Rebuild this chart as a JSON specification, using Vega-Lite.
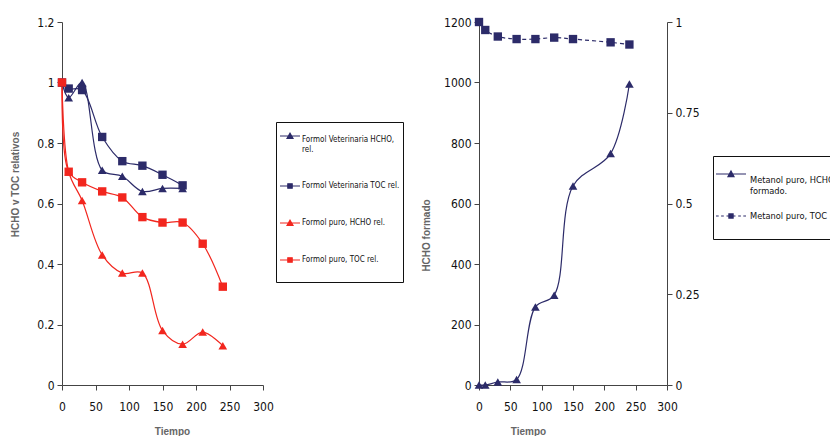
{
  "$schema": "https://vega.github.io/schema/vega-lite/v6.json",
  "padding": {"left": 10, "top": 16, "right": 0, "bottom": 0},
  "bounds": "flush",
  "spacing": 216,
  "config": {
    "view": {"stroke": null},
    "axis": {
      "grid": false,
      "domainColor": "#444",
      "tickColor": "#444",
      "tickSize": 5,
      "labelFont": "DejaVu Sans Condensed, sans-serif",
      "labelFontSize": 12,
      "labelColor": "#111",
      "labelOverlap": false,
      "labelFlush": false,
      "labelExpr": "toString(datum.value)",
      "titleFont": "Liberation Sans, Arial, sans-serif",
      "titleFontSize": 10,
      "titleFontWeight": "bold",
      "titleColor": "#666"
    },
    "legend": {
      "labelFont": "DejaVu Sans Condensed, sans-serif",
      "labelColor": "#111"
    }
  },
  "datasets": {
    "left": [
      {"s": "Formol Veterinaria HCHO, rel.", "t": 0, "v": 1.0},
      {"s": "Formol Veterinaria HCHO, rel.", "t": 10, "v": 0.95},
      {"s": "Formol Veterinaria HCHO, rel.", "t": 30, "v": 1.0},
      {"s": "Formol Veterinaria HCHO, rel.", "t": 60, "v": 0.71},
      {"s": "Formol Veterinaria HCHO, rel.", "t": 90, "v": 0.69},
      {"s": "Formol Veterinaria HCHO, rel.", "t": 120, "v": 0.64},
      {"s": "Formol Veterinaria HCHO, rel.", "t": 150, "v": 0.65},
      {"s": "Formol Veterinaria HCHO, rel.", "t": 180, "v": 0.65},
      {"s": "Formol Veterinaria TOC rel.", "t": 0, "v": 1.0},
      {"s": "Formol Veterinaria TOC rel.", "t": 10, "v": 0.98},
      {"s": "Formol Veterinaria TOC rel.", "t": 30, "v": 0.975},
      {"s": "Formol Veterinaria TOC rel.", "t": 60, "v": 0.82},
      {"s": "Formol Veterinaria TOC rel.", "t": 90, "v": 0.74},
      {"s": "Formol Veterinaria TOC rel.", "t": 120, "v": 0.725},
      {"s": "Formol Veterinaria TOC rel.", "t": 150, "v": 0.695},
      {"s": "Formol Veterinaria TOC rel.", "t": 180, "v": 0.66},
      {"s": "Formol puro, HCHO rel.", "t": 0, "v": 1.0},
      {"s": "Formol puro, HCHO rel.", "t": 10, "v": 0.705},
      {"s": "Formol puro, HCHO rel.", "t": 30, "v": 0.61},
      {"s": "Formol puro, HCHO rel.", "t": 60, "v": 0.43},
      {"s": "Formol puro, HCHO rel.", "t": 90, "v": 0.37},
      {"s": "Formol puro, HCHO rel.", "t": 120, "v": 0.37},
      {"s": "Formol puro, HCHO rel.", "t": 150, "v": 0.18},
      {"s": "Formol puro, HCHO rel.", "t": 180, "v": 0.135},
      {"s": "Formol puro, HCHO rel.", "t": 210, "v": 0.175},
      {"s": "Formol puro, HCHO rel.", "t": 240, "v": 0.13},
      {"s": "Formol puro, TOC rel.", "t": 0, "v": 1.0},
      {"s": "Formol puro, TOC rel.", "t": 10, "v": 0.705},
      {"s": "Formol puro, TOC rel.", "t": 30, "v": 0.67},
      {"s": "Formol puro, TOC rel.", "t": 60, "v": 0.64},
      {"s": "Formol puro, TOC rel.", "t": 90, "v": 0.62},
      {"s": "Formol puro, TOC rel.", "t": 120, "v": 0.555},
      {"s": "Formol puro, TOC rel.", "t": 150, "v": 0.537},
      {"s": "Formol puro, TOC rel.", "t": 180, "v": 0.537},
      {"s": "Formol puro, TOC rel.", "t": 210, "v": 0.467},
      {"s": "Formol puro, TOC rel.", "t": 240, "v": 0.325}
    ],
    "right": [
      {"s": "Metanol puro, HCHO formado.", "t": 0, "v": 0},
      {"s": "Metanol puro, HCHO formado.", "t": 10, "v": 0},
      {"s": "Metanol puro, HCHO formado.", "t": 30, "v": 10},
      {"s": "Metanol puro, HCHO formado.", "t": 60, "v": 18},
      {"s": "Metanol puro, HCHO formado.", "t": 90, "v": 258},
      {"s": "Metanol puro, HCHO formado.", "t": 120, "v": 297},
      {"s": "Metanol puro, HCHO formado.", "t": 150, "v": 658},
      {"s": "Metanol puro, HCHO formado.", "t": 210, "v": 765},
      {"s": "Metanol puro, HCHO formado.", "t": 240, "v": 995},
      {"s": "Metanol puro, TOC rel.", "t": 0, "v": 1.0},
      {"s": "Metanol puro, TOC rel.", "t": 10, "v": 0.978},
      {"s": "Metanol puro, TOC rel.", "t": 30, "v": 0.96},
      {"s": "Metanol puro, TOC rel.", "t": 60, "v": 0.953},
      {"s": "Metanol puro, TOC rel.", "t": 90, "v": 0.953},
      {"s": "Metanol puro, TOC rel.", "t": 120, "v": 0.957},
      {"s": "Metanol puro, TOC rel.", "t": 150, "v": 0.953},
      {"s": "Metanol puro, TOC rel.", "t": 210, "v": 0.944},
      {"s": "Metanol puro, TOC rel.", "t": 240, "v": 0.938}
    ]
  },
  "resolve": {
    "scale": {"color": "independent"},
    "legend": {"color": "independent"}
  },
  "hconcat": [
    {
      "width": 201,
      "height": 363,
      "data": {"name": "left"},
      "encoding": {
        "x": {
          "field": "t", "type": "quantitative",
          "scale": {"domain": [0, 300], "nice": false},
          "axis": {"values": [0, 50, 100, 150, 200, 250, 300], "title": "Tiempo", "labelPadding": 11, "titleX": 110, "titleY": 41, "titleBaseline": "top"}
        },
        "y": {
          "field": "v", "type": "quantitative",
          "scale": {"domain": [0, 1.2], "nice": false},
          "axis": {"values": [0, 0.2, 0.4, 0.6, 0.8, 1, 1.2], "title": "HCHO v TOC relativos", "labelPadding": 3, "titleX": -42, "titleY": 162}
        },
        "color": {
          "field": "s", "type": "nominal",
          "scale": {
            "domain": ["Formol Veterinaria HCHO, rel.", "Formol Veterinaria TOC rel.", "Formol puro, HCHO rel.", "Formol puro, TOC rel."],
            "range": ["#2c2b69", "#2c2b69", "#f2261e", "#f2261e"]
          },
          "legend": {
            "orient": "none",
            "legendX": 214,
            "legendY": 100,
            "title": " ",
            "titleOrient": "bottom",
            "titleFontSize": 10,
            "titlePadding": 4,
            "strokeColor": "#111",
            "fillColor": "white",
            "padding": 3,
            "symbolSize": 400,
            "labelFontSize": 8,
            "labelOffset": 1,
            "labelLimit": 200,
            "rowPadding": 21,
            "labelExpr": "datum.label == 'Formol Veterinaria HCHO, rel.' ? ['Formol Veterinaria HCHO,', 'rel.'] : datum.label",
            "encode": {
              "symbols": {
                "update": {
                  "shape": {"signal": "indexof(datum.value, 'HCHO') >= 0 ? 'M-1,0H1M-0.3,0.25L0,-0.28L0.3,0.25Z' : 'M-1,0H1M-0.22,-0.22H0.22V0.22H-0.22Z'"},
                  "fill": {"signal": "indexof(datum.value, 'puro') >= 0 ? '#f2261e' : '#2c2b69'"},
                  "stroke": {"signal": "indexof(datum.value, 'puro') >= 0 ? '#f2261e' : '#2c2b69'"},
                  "strokeWidth": {"value": 1.2},
                  "opacity": {"value": 1}
                }
              },
              "labels": {
                "update": {
                  "dy": {"signal": "datum.value == 'Formol Veterinaria HCHO, rel.' ? 4 : 0"}
                }
              }
            }
          }
        }
      },
      "layer": [
        {"mark": {"type": "line", "interpolate": "catmull-rom", "strokeWidth": 1.2}},
        {
          "transform": [{"filter": "indexof(datum.s, 'HCHO') >= 0"}],
          "mark": {"type": "point", "filled": true, "opacity": 1, "size": 75, "shape": "triangle-up"}
        },
        {
          "transform": [{"filter": "indexof(datum.s, 'TOC') >= 0"}],
          "mark": {"type": "point", "filled": true, "opacity": 1, "size": 70, "shape": "square"}
        }
      ]
    },
    {
      "width": 188,
      "height": 363,
      "data": {"name": "right"},
      "encoding": {
        "x": {
          "field": "t", "type": "quantitative",
          "scale": {"domain": [0, 300], "nice": false},
          "axis": {"values": [0, 50, 100, 150, 200, 250, 300], "title": "Tiempo", "labelPadding": 11, "titleX": 49, "titleY": 41, "titleBaseline": "top"}
        },
        "color": {
          "field": "s", "type": "nominal",
          "scale": {"domain": ["Metanol puro, HCHO formado.", "Metanol puro, TOC rel."], "range": ["#2c2b69", "#2c2b69"]},
          "legend": {
            "orient": "none",
            "legendX": 234,
            "legendY": 134,
            "title": " ",
            "titleOrient": "bottom",
            "titleFontSize": 10,
            "titlePadding": 6,
            "strokeColor": "#111",
            "fillColor": "white",
            "padding": 2,
            "symbolSize": 900,
            "labelFontSize": 9.2,
            "labelOffset": 3,
            "labelLimit": 200,
            "rowPadding": 3,
            "labelExpr": "datum.label == 'Metanol puro, HCHO formado.' ? ['Metanol puro, HCHO', 'formado.'] : datum.label",
            "encode": {
              "symbols": {
                "update": {
                  "shape": {"signal": "indexof(datum.value, 'HCHO') >= 0 ? 'M-1,0H1M-0.2,0.17L0,-0.2L0.2,0.17Z' : 'M-1,0H-0.82M-0.66,0H-0.48M0.48,0H0.66M0.82,0H1M-0.3,0H0.3M-0.14,-0.14H0.14V0.14H-0.14Z'"},
                  "fill": {"value": "#2c2b69"},
                  "stroke": {"value": "#2c2b69"},
                  "strokeWidth": {"value": 1.2},
                  "opacity": {"value": 1}
                }
              },
              "labels": {
                "update": {
                  "dy": {"signal": "datum.value == 'Metanol puro, HCHO formado.' ? 6 : 0"}
                }
              }
            }
          }
        }
      },
      "layer": [
        {
          "transform": [{"filter": "datum.s == 'Metanol puro, HCHO formado.'"}],
          "encoding": {
            "y": {
              "field": "v", "type": "quantitative",
              "scale": {"domain": [0, 1200], "nice": false},
              "axis": {"values": [0, 200, 400, 600, 800, 1000, 1200], "title": "HCHO formado", "labelPadding": 3, "titleX": -48, "titleY": 213}
            }
          },
          "layer": [
            {"mark": {"type": "line", "interpolate": "catmull-rom", "strokeWidth": 1.2}},
            {"mark": {"type": "point", "filled": true, "opacity": 1, "size": 75, "shape": "triangle-up"}}
          ]
        },
        {
          "transform": [{"filter": "datum.s == 'Metanol puro, TOC rel.'"}],
          "encoding": {
            "y": {
              "field": "v", "type": "quantitative",
              "scale": {"domain": [0, 1], "nice": false},
              "axis": {"orient": "right", "values": [0, 0.25, 0.5, 0.75, 1], "title": null, "labelPadding": 3}
            }
          },
          "layer": [
            {"mark": {"type": "line", "interpolate": "catmull-rom", "strokeWidth": 1.2, "strokeDash": [4, 3]}},
            {"mark": {"type": "point", "filled": true, "opacity": 1, "size": 70, "shape": "square"}}
          ]
        }
      ],
      "resolve": {"scale": {"y": "independent"}}
    }
  ]
}
